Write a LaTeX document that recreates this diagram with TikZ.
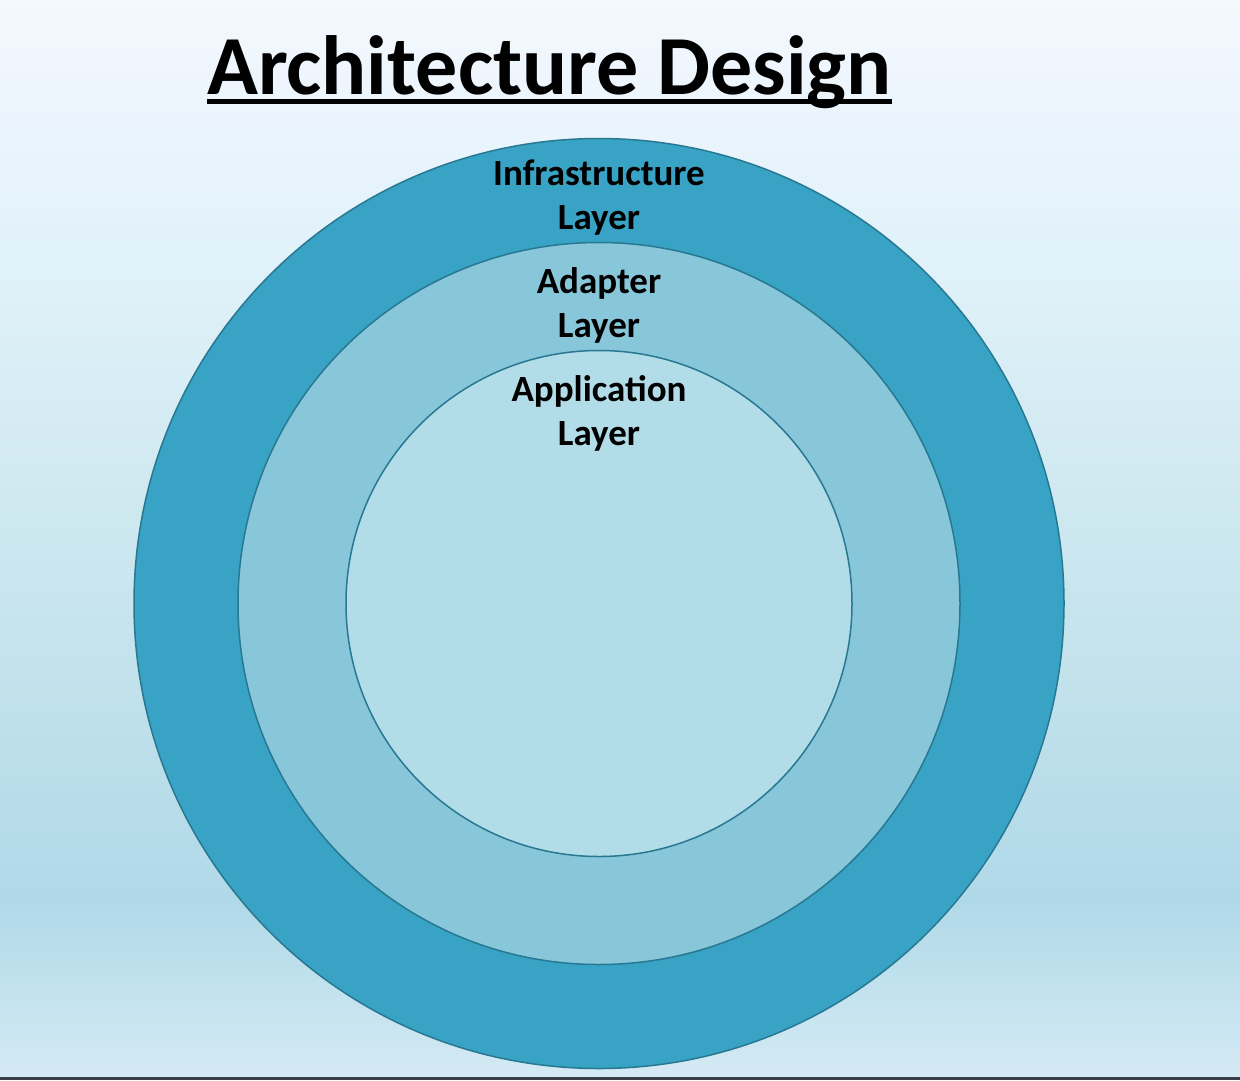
\documentclass[tikz,border=0pt]{standalone}
\usepackage{fontspec}
\setmainfont{Carlito}
\usetikzlibrary{positioning}

\definecolor{bgA}{RGB}{244,249,253}
\definecolor{bgB}{RGB}{238,245,253}
\definecolor{bgC}{RGB}{226,242,250}
\definecolor{bgD}{RGB}{200,229,237}
\definecolor{bgE}{RGB}{176,217,232}
\definecolor{bgF}{RGB}{212,234,244}
\definecolor{ringdark}{RGB}{56,163,196}
\definecolor{ringmid}{RGB}{136,199,218}
\definecolor{ringlight}{RGB}{178,220,232}
\definecolor{ringline}{RGB}{40,120,146}
\definecolor{barcol}{RGB}{58,62,70}

\begin{document}
\begin{tikzpicture}[
        x=1pt, y=-1pt,
        ring/.style={draw=ringline, line width=1.5pt, circle, inner sep=0pt},
        layer/.style={align=center, inner sep=0pt, font=\fontsize{37}{44}\selectfont\bfseries}
    ]
    \useasboundingbox (0,0) rectangle (1240,1080);

    % background
    \shade[top color=bgA, bottom color=bgB] (0,0) rectangle (1240,80);
    \shade[top color=bgB, bottom color=bgC] (0,80) rectangle (1240,240);
    \shade[top color=bgC, bottom color=bgD] (0,240) rectangle (1240,600);
    \shade[top color=bgD, bottom color=bgE] (0,600) rectangle (1240,900);
    \shade[top color=bgE, bottom color=bgF] (0,900) rectangle (1240,1077);
    \fill[barcol] (0,1077) rectangle (1240,1080);

    % title
    \node[anchor=base, inner sep=0pt, font=\fontsize{84}{90}\selectfont\bfseries] (title) at (549.5,94) {Architecture Design};
    \draw[line width=5pt] ([yshift=-7.5pt]title.base west) -- ([yshift=-7.5pt]title.base east);

    % rings
    \foreach \name/\r/\col in {infra/465/ringdark, adapter/361/ringmid, app/253/ringlight} {
        \node[ring, fill=\col, minimum size=\r*2pt] (\name) at (599,603.5) {};
    }

    \node[layer] (infralabel) at (599,197.5) {Infrastructure\\Layer};
    \node[layer] (adapterlabel) at (599,305) {Adapter\\Layer};
    \node[layer] (applabel) at (599,413.5) {Application\\Layer};
\end{tikzpicture}
\end{document}
